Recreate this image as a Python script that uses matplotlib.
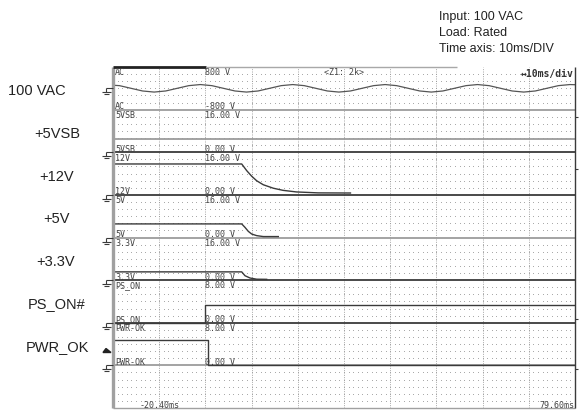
import matplotlib
matplotlib.use("Agg")
import matplotlib.pyplot as plt
import numpy as np
from matplotlib.lines import Line2D
from matplotlib.patches import Polygon

# ---- data (time in ms, values in volts) ----
t_start, t_end = -20.4, 79.6

ac_t = [-20.4, -19, -16.5, -14, -11.5, -9, -6.5, -4, -1.5, 1, 3.5, 6, 8.5, 11, 13.5,
        16, 18.5, 21, 23.5, 26, 28.5, 31, 33.5, 36, 38.5, 41, 43.5, 46, 48.5, 51,
        53.5, 56, 58.5, 61, 63.5, 66, 68.5, 71, 73.5, 76, 78.5, 79.6]
ac_v = [115, 100, 0, -100, -141, -100, 0, 100, 141, 100, 0, -100, -141, -100, 0,
        100, 141, 100, 0, -100, -141, -100, 0, 100, 141, 100, 0, -100, -141, -100,
        0, 100, 141, 100, 0, -100, -141, -100, 0, 100, 141, 135]

vsb_t = [-20.4, 79.6]
vsb_v = [5.0, 5.0]

v12_t = [-20.4, 7.46, 8.54, 9.62, 10.7, 12.13, 14.3, 16.4, 19.3, 24.0, 31.0]
v12_v = [11.6, 11.6, 9.1, 7.0, 5.3, 3.8, 2.5, 1.7, 1.1, 0.75, 0.7]

v5_t = [-20.4, 7.46, 8.17, 8.89, 9.62, 10.7, 12.13, 15.38]
v5_v = [5.1, 5.1, 3.8, 2.3, 1.3, 0.7, 0.35, 0.35]

v33_t = [-20.4, 7.46, 8.17, 9.25, 10.7, 12.86]
v33_v = [3.1, 3.1, 1.65, 0.8, 0.35, 0.3]

pson_t = [-20.4, -0.4, -0.4, 79.6]
pson_v = [0.0, 0.0, 3.3, 3.3]

pwrok_t = [-20.4, 0.1, 0.1, 79.6]
pwrok_v = [4.8, 4.8, 0.0, 0.0]
pwrok_trig = 2.7

channels = ["AC", "5VSB", "12V", "5V", "3.3V", "PS_ON", "PWR-OK"]
top_scale = ["800 V", "16.00 V", "16.00 V", "16.00 V", "16.00 V", "8.00 V", "8.00 V"]
bot_scale = ["-800 V", "0.00 V", "0.00 V", "0.00 V", "0.00 V", "0.00 V", "0.00 V"]
side_labels = ["100 VAC", "+5VSB", "+12V", "+5V", "+3.3V", "PS_ON#", "PWR_OK"]
info_lines = ["Input: 100 VAC", "Load: Rated", "Time axis: 10ms/DIV"]

# ---- figure / screen geometry (pixels) ----
W, H = 583, 414
L, R, T, B = 113, 575, 68, 409
ph = (B - T) / 8.0


def fx(px):
    return px / W


def fy(py):
    return 1 - py / H


fig = plt.figure(figsize=(W / 100, H / 100), dpi=100)
ax = fig.add_axes([fx(L), fy(B), fx(R) - fx(L), fy(T) - fy(B)])
ax.set_xlim(t_start, t_end)
ax.set_ylim(0, 8)
ax.axis("off")

grid_c = "#9a9a9a"
dark = "#3a3a3a"
gray = "#9c9c9c"

# dotted grid: rows of dots every 1 ms, 5 rows per panel
xs = np.arange(t_start, t_end + 0.01, 1.0)
for k in range(8):
    for j in range(1, 6):
        ax.plot(xs, np.full_like(xs, k + j / 6.0), ls="none", marker="s",
                ms=0.55, mew=0, color=grid_c)
# major vertical dotted lines every 10 ms
for xv in np.arange(t_start + 10, t_end - 1, 10):
    ax.plot([xv, xv], [0, 8], color=grid_c, lw=0.6, ls=(0, (1.2, 1.6)))

# panel boundary lines
bstyle = {7: gray, 6: dark, 5: dark, 4: gray, 3: dark, 2: dark, 1: gray}
for k, c in bstyle.items():
    ax.plot([t_start, t_end], [k, k], color=c, lw=1.3, solid_capstyle="butt")

# traces
ax.plot(ac_t, 7.5 + np.array(ac_v) / 1600.0, color="#555555", lw=0.9)
ax.plot(vsb_t, 6 + np.array(vsb_v) / 16.0, color=gray, lw=1.3)
ax.plot(v12_t, 5 + np.array(v12_v) / 16.0, color=dark, lw=1.0)
ax.plot(v5_t, 4 + np.array(v5_v) / 16.0, color=dark, lw=1.0)
ax.plot(v33_t, 3 + np.array(v33_v) / 16.0, color=dark, lw=1.0)
ax.plot(pson_t, 2 + np.array(pson_v) / 8.0, color=dark, lw=1.0)
ax.plot(pwrok_t, 1 + np.array(pwrok_v) / 8.0, color=dark, lw=1.0)


# screen borders
def pline(x0, y0, x1, y1, c, lw):
    fig.add_artist(Line2D([fx(x0), fx(x1)], [fy(y0), fy(y1)], color=c, lw=lw,
                          solid_capstyle="butt"))


pline(L, T, L, B, "#a0a0a0", 2.4)
pline(L, B, R, B, "#a0a0a0", 1.0)
pline(R, T, R, B, dark, 1.0)
pline(L, T, 206, T, "#222222", 2.0)
pline(206, T, 457, T, "#a8a8a8", 1.0)
for yy in [118, 170, 320, 370]:
    pline(R, yy, R + 3, yy, dark, 0.8)

# ground symbols at each channel zero
for k in [7.5, 6, 5, 4, 3, 2, 1]:
    y0 = B - k * ph
    pline(106, y0, L, y0, dark, 0.8)
    pline(106, y0, 106, y0 + 4, dark, 0.8)
    pline(101.5, y0 + 4, 110.5, y0 + 4, dark, 0.8)
    pline(103.5, y0 + 6, 108.5, y0 + 6, dark, 0.8)

# trigger level marker on PWR-OK
ty = B - (1 + pwrok_trig / 8.0) * ph
fig.add_artist(Polygon([[fx(103), fy(ty + 1.5)], [fx(111), fy(ty + 1.5)],
                        [fx(106), fy(ty - 2.5)]], closed=True, color="#222222"))

# scope text
mono = dict(family="DejaVu Sans Mono", fontsize=6, color="#444444")
for i, ch in enumerate(channels):
    top = T + i * ph
    bot = T + (i + 1) * ph
    fig.text(fx(115), fy(top + 7.3), ch, va="baseline", ha="left", **mono)
    fig.text(fx(205), fy(top + 7.3), top_scale[i], va="baseline", ha="left", **mono)
    fig.text(fx(115), fy(bot - 1.5), ch, va="baseline", ha="left", **mono)
    fig.text(fx(205), fy(bot - 1.5), bot_scale[i], va="baseline", ha="left", **mono)

fig.text(fx(324), fy(75), "<Z1: 2k>", va="baseline", ha="left", **mono)
fig.text(fx(574), fy(77), "\u219410ms/div", va="baseline", ha="right",
         family="DejaVu Sans Mono", fontsize=7, fontweight="bold", color="#333333")
fig.text(fx(140), fy(408), "-20.40ms", va="baseline", ha="left", **mono)
fig.text(fx(574), fy(408), "79.60ms", va="baseline", ha="right", **mono)

# labels on the left
side_x = [37, 57, 57, 57, 56, 57, 57]
for i, s in enumerate(side_labels):
    yc = T + (i + 0.5) * ph + 2
    fig.text(fx(side_x[i]), fy(yc), s, ha="center", va="center",
             family="Liberation Sans", fontsize=10.5, color="#222222")

# info block top right
for i, s in enumerate(info_lines):
    fig.text(fx(439), fy(20 + i * 15.8), s, ha="left", va="baseline",
             family="Liberation Sans", fontsize=9, color="#222222")

fig.savefig("out.png", dpi=100)
